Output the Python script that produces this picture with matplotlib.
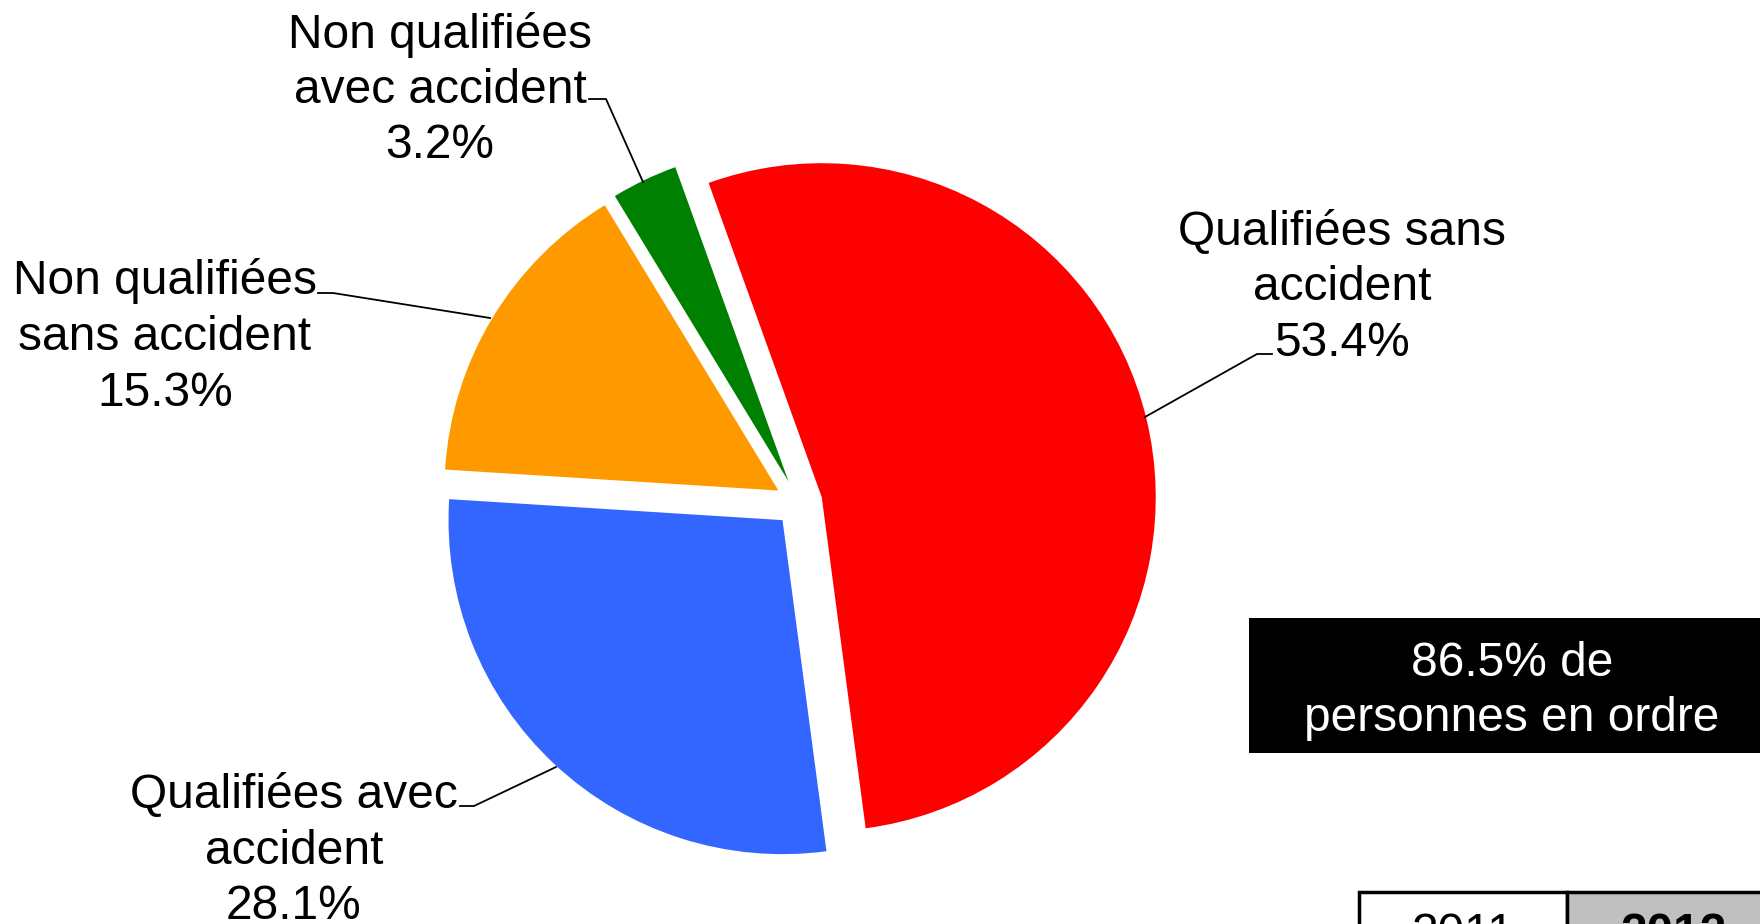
import matplotlib.pyplot as plt
from matplotlib.patches import Rectangle

# Data
labels = ['Qualifiées sans\naccident', 'Qualifiées avec\naccident',
          'Non qualifiées\nsans accident', 'Non qualifiées\navec accident']
values = [53.4, 28.1, 15.3, 3.2]
colors = ['#FF0000', '#3366FF', '#FF9900', '#008000']
box_text = '86.5% de\npersonnes en ordre'
years = ['2011', '2012']

# layout (pixels from top-left of a 1760x924 image)
W, H = 1760, 924
CX, CY, R = 798.7, 502.8, 334.0

def px(x, y):
    return (x - CX) / R, (CY - y) / R

plt.rcParams['font.family'] = ['Liberation Sans', 'DejaVu Sans']
FS = 34.5
LS = 1.3

fig = plt.figure(figsize=(W / 100, H / 100), dpi=100)
ax = fig.add_axes([0, 0, 1, 1])
x0, y0 = px(0, H)
x1, y1 = px(W, 0)

ax.pie(values, colors=colors, startangle=109.8, counterclock=False,
       explode=[0.071] * 4, radius=1, center=(0, 0), frame=True,
       wedgeprops=dict(linewidth=0))
ax.set_xlim(x0, x1)
ax.set_ylim(y0, y1)
ax.set_aspect('auto')
ax.axis('off')

# label positions and leader lines (pixel coords)
label_pos = [(1342, 288), (294, 851), (165, 337), (440, 90)]
leaders = [
    [(1272, 354), (1257, 354), (1145, 417)],
    [(460, 806), (474, 806), (556, 767)],
    [(318, 293), (333, 293), (490, 318)],
    [(589, 99), (606, 99), (643, 182)],
]
for lab, v, pos, ln in zip(labels, values, label_pos, leaders):
    tx, ty = px(*pos)
    ax.text(tx, ty, '{}\n{:.1f}%'.format(lab, v), ha='center', va='center',
            multialignment='center', fontsize=FS, color='black', linespacing=LS)
    pts = [px(*p) for p in ln]
    ax.plot([p[0] for p in pts], [p[1] for p in pts], color='black', lw=1.3)

# black info box
bx, by = px(1249, 753)
bx2, by2 = px(1770, 618)
ax.add_patch(Rectangle((bx, by), bx2 - bx, by2 - by, facecolor='black',
                       edgecolor='none', clip_on=False))
tx, ty = px(1512, 691)
ax.text(tx, ty, box_text, ha='center', va='center', multialignment='center',
        fontsize=FS, color='white', linespacing=LS)

# year table (cut off at bottom, as in the original)
cells = [(1359, 1567, 'white', 'normal'), (1567, 1775, '#C0C0C0', 'bold')]
for (l, r, fc, fw), yr in zip(cells, years):
    cl, cb = px(l, 990)
    cr, ct = px(r, 892)
    ax.add_patch(Rectangle((cl, cb), cr - cl, ct - cb, facecolor=fc,
                           edgecolor='black', lw=2.5, clip_on=False))
    tx, ty = px((l + r) / 2 if r < W else 1673, 947)
    ax.text(tx, ty, yr, ha='center', va='baseline', fontsize=FS,
            fontweight=fw, color='black')

fig.savefig('out.png', dpi=100)
